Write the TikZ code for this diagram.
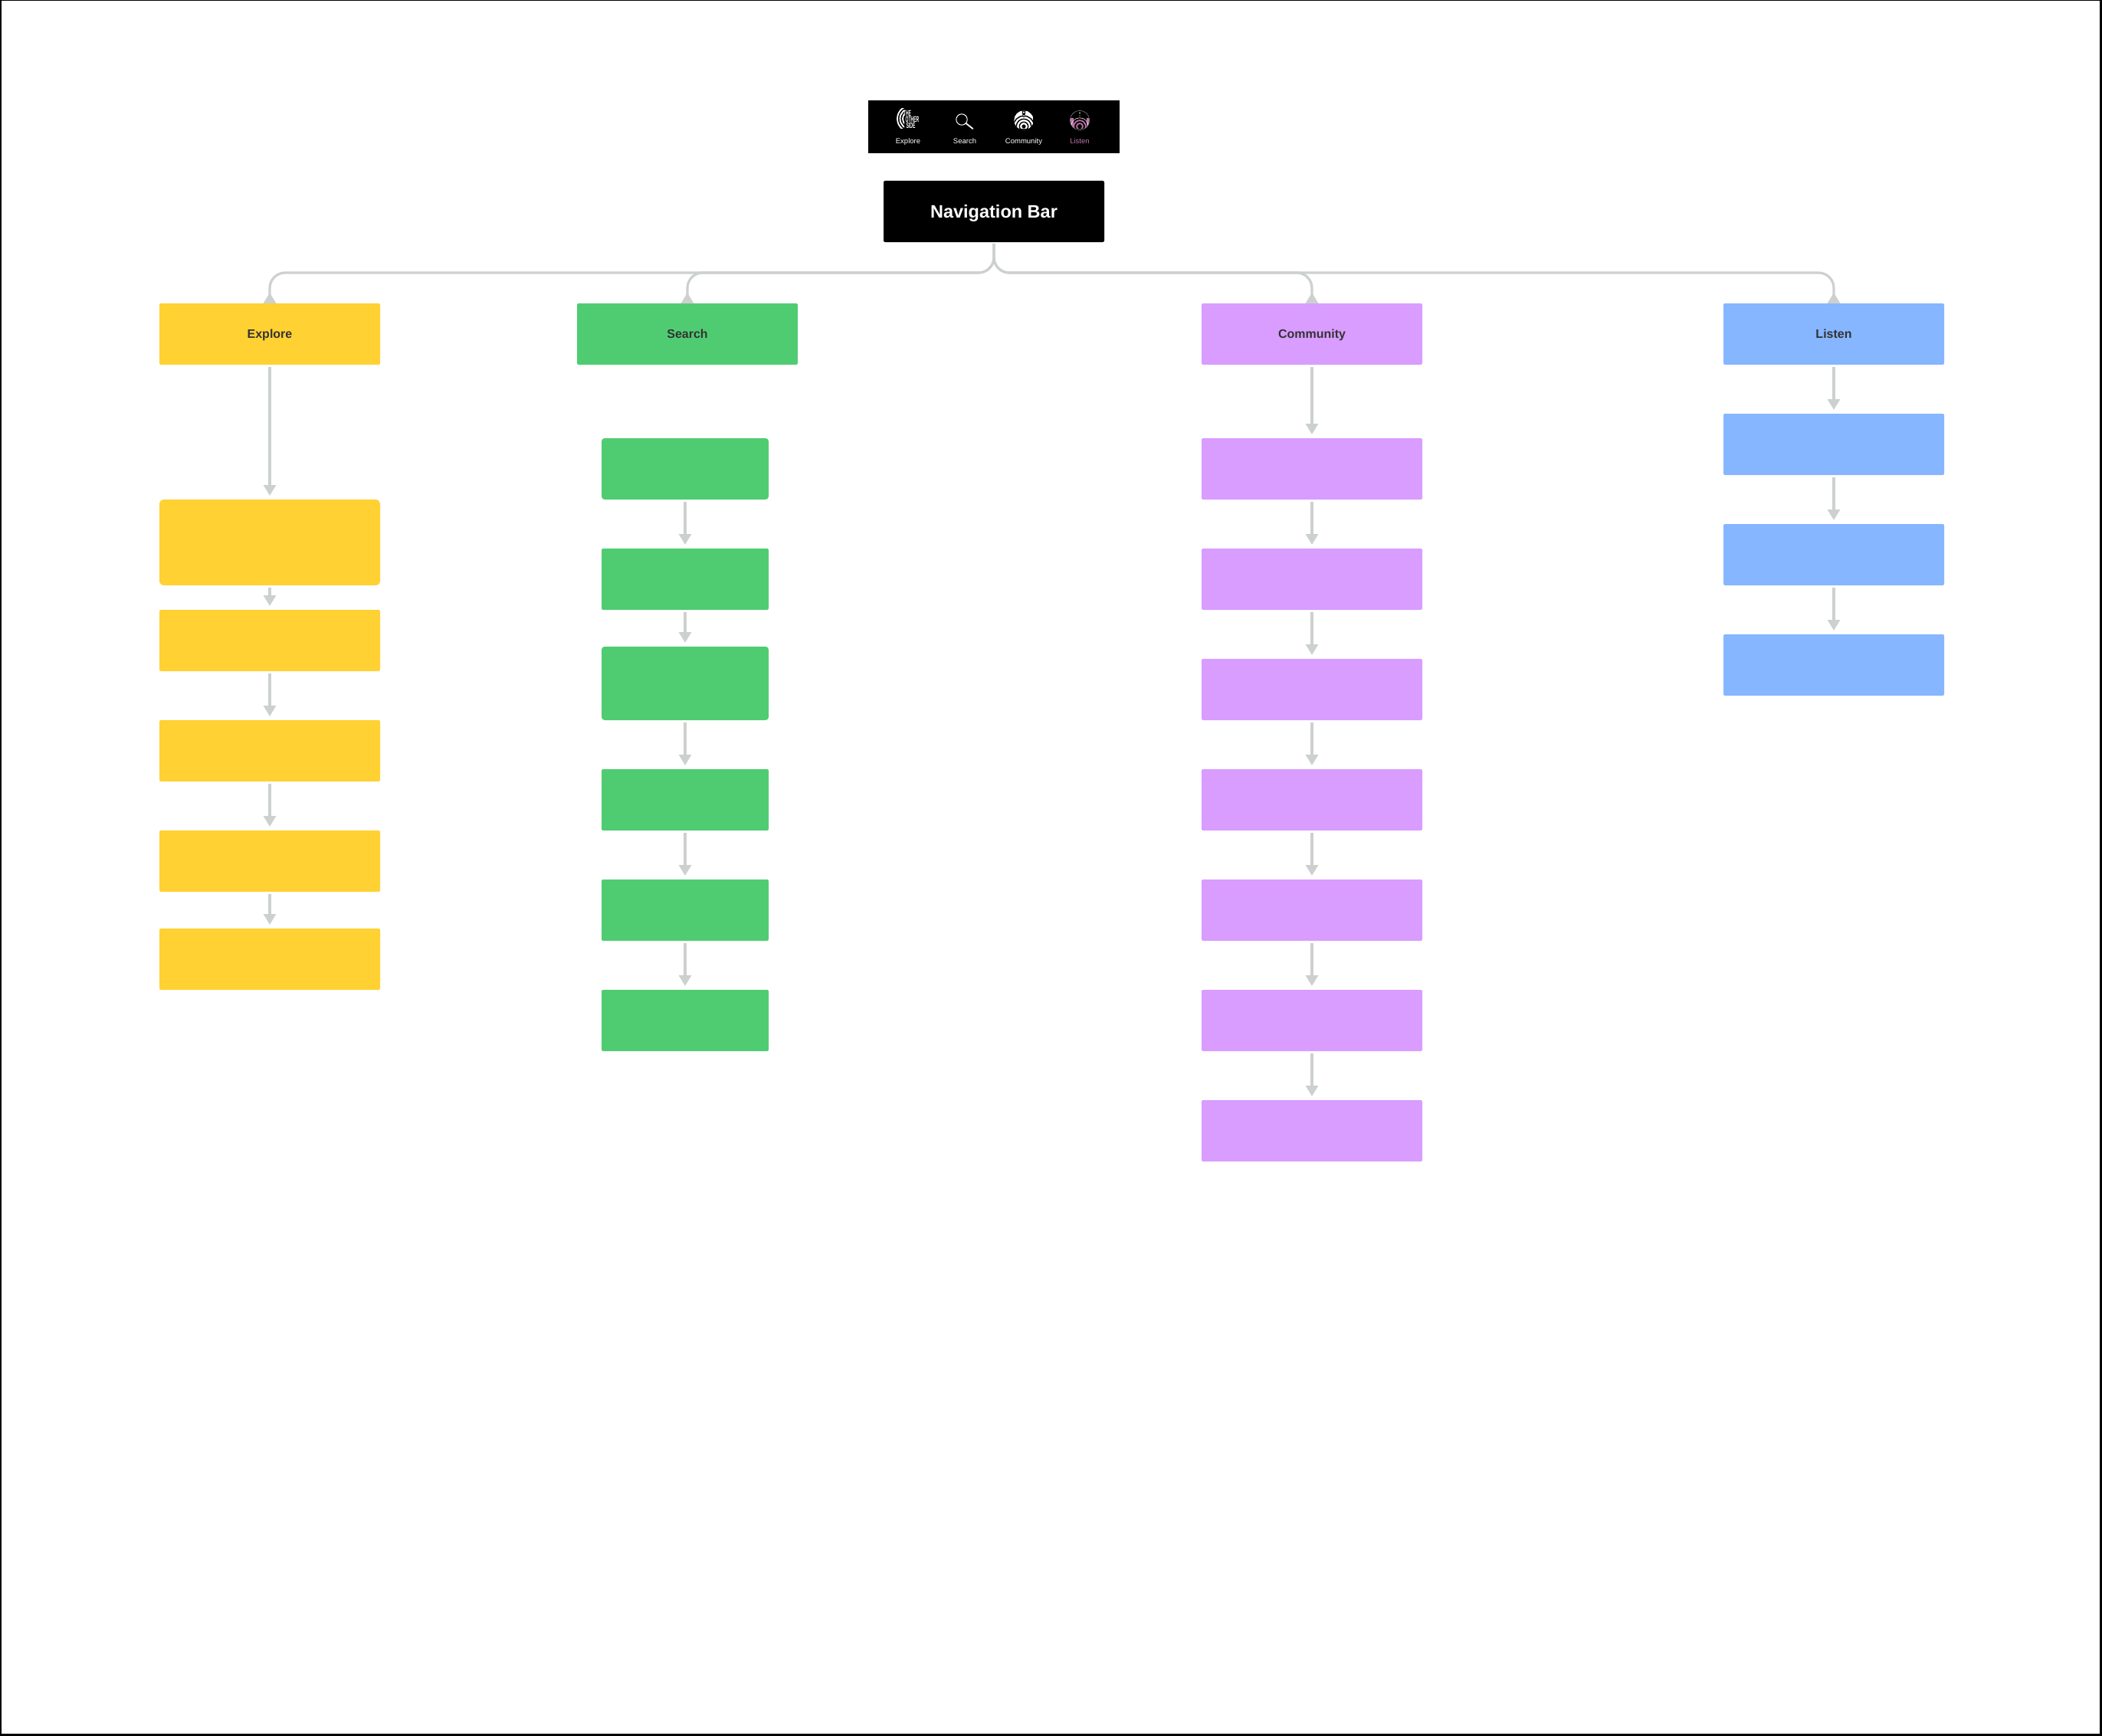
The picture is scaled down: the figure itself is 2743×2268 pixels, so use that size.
\documentclass[tikz,border=0pt]{standalone}
\usepackage{fontspec}
\setmainfont{Liberation Sans}
\usepackage{xcolor}
\usetikzlibrary{arrows.meta,positioning}
\definecolor{navyellow}{HTML}{FFD133}
\definecolor{navgreen}{HTML}{4FCC72}
\definecolor{navviolet}{HTML}{D99CFF}
\definecolor{navblue}{HTML}{85B6FF}
\definecolor{linkgray}{HTML}{CDD1CE}
\definecolor{labelgray}{HTML}{333333}
\definecolor{listenpink}{HTML}{BC74A8}
\tikzset{
 pics/arches/.style={code={
  \begin{scope}
  \clip (0,0) circle (12.7);
  \fill[white] (0,0) circle (12.7);
  \foreach \r in {5.7,9.7,13.7} \draw[black,line width=1.4pt] (0,8) circle (\r);
  \fill[black] (0,8) circle (2.6);
  \fill[black] (-13,11.5) rectangle (13,13);
  \fill[black] (-2.4,-13)--(2.4,-13)--(1.2,-4)--(-1.2,-4)--cycle;
  \fill[white] (0,-10.4) circle (1.2);
  \fill[white] (0,-6) circle (1);
  \end{scope}}},
 pics/listenarches/.style={code={
  \begin{scope}
  \clip (0,0) circle (12.7);
  \fill[black] (0,0) circle (12.7);
  \fill[listenpink] (-13,-3) rectangle (-8.5,9);
  \fill[listenpink] (8.5,-3) rectangle (13,9);
  \foreach \r in {4,7.8} \draw[listenpink,line width=1.7pt] (0,8) circle (\r);
  \draw[white!75!listenpink,line width=0.6pt] (0,8) circle (11.2);
  \fill[black] (-13,11.5) rectangle (13,13);
  \fill[white] (0,-9.5) circle (0.8);
  \fill[white] (0,-6) circle (0.7);
  \end{scope}
  \draw[white!55!black,line width=0.5pt] (0,0) circle (12.7);}}
}
\begin{document}
\begin{tikzpicture}[x=1pt,y=-1pt,
 font=\fontsize{16}{18}\selectfont,
 card/.style={rounded corners=2pt,inner sep=0pt,outer sep=0pt,minimum width=288pt,minimum height=80pt,align=center},
 head/.style={card,text=labelgray,text height=11.4pt,text depth=0pt,font=\bfseries\fontsize{16}{18}\selectfont},
 navitem/.style={inner sep=0pt,text=white,text height=7pt,text depth=0pt,font=\fontsize{9.5}{10}\selectfont},
 logotext/.style={inner sep=0pt,text=white,font=\bfseries\fontsize{10.5}{11}\selectfont,xscale=0.48},
 flow/.style={-{Triangle[width=16pt,length=14pt]},draw=linkgray,line width=3.2pt,shorten <=3pt,shorten >=5pt},
 branch/.style={-{Triangle[reversed,width=16pt,length=14pt]},draw=linkgray,line width=3.2pt,rounded corners=20pt,shorten <=2pt}]
\useasboundingbox (0,0) rectangle (2743,2266);
\draw[black,line width=3pt] (0.5,0) rectangle (2741.5,2264.5);
% navigation strip and its icons
\node[card,fill=black,text=white,text height=17pt,text depth=0pt,font=\bfseries\fontsize{23.5}{26}\selectfont] (navbar) at (1297,276) {Navigation Bar};
\node[fill=black,inner sep=0pt,outer sep=0pt,minimum width=328pt,minimum height=69pt,above=36pt of navbar] (navstrip) {};
\node[navitem] (navexplore) at (1185,184) {Explore};
\node[navitem] (navsearch) at (1259,184) {Search};
\node[navitem] (navcommunity) at (1336,184) {Community};
\node[navitem,text=listenpink] (navlisten) at (1409,184) {Listen};
\begin{scope}
\clip (1169,142) rectangle (1180,168);
\foreach \r in {3,6.5,10,13.5,17} \draw[white,line width=1.8pt] (1188,155) circle (\r);
\end{scope}
\node[logotext] (logothe) at (1184,147.5) {THE};
\node[logotext] (logoother) at (1190.5,156) {OTHER};
\node[logotext] (logoside) at (1188.5,163.5) {SIDE};
\draw[white,line width=1pt] (1255,156) circle (7.2);
\draw[white,line width=1.8pt,line cap=round] (1260.5,161)--(1269.5,168);
\pic at (1336,157) {arches};
\pic at (1409,157) {listenarches};
% top row
\node[head,fill=navyellow] (explore) at (352,436) {Explore};
\node[head,fill=navgreen] (search) at (897,436) {Search};
\node[head,fill=navviolet] (community) at (1712,436) {Community};
\node[head,fill=navblue] (listen) at (2393,436) {Listen};
\coordinate (rail) at (1297,356);
\draw[branch] (navbar.south)--(rail)--(explore.north |- rail)--(explore.north);
\draw[branch] (navbar.south)--(rail)--(search.north |- rail)--(search.north);
\draw[branch] (navbar.south)--(rail)--(community.north |- rail)--(community.north);
\draw[branch] (navbar.south)--(rail)--(listen.north |- rail)--(listen.north);
% explore column
\node[card,fill=navyellow,minimum height=112pt,rounded corners=6pt,below=176pt of explore] (e1) {};
\node[card,fill=navyellow,below=32pt of e1] (e2) {};
\node[card,fill=navyellow,below=64pt of e2] (e3) {};
\node[card,fill=navyellow,below=64pt of e3] (e4) {};
\node[card,fill=navyellow,below=48pt of e4] (e5) {};
\draw[flow] (explore)--(e1); \draw[flow] (e1)--(e2); \draw[flow] (e2)--(e3);
\draw[flow] (e3)--(e4); \draw[flow] (e4)--(e5);
% search column
\node[card,fill=navgreen,minimum width=218pt,rounded corners=4pt] (s1) at (894,612) {};
\node[card,fill=navgreen,minimum width=218pt,below=64pt of s1] (s2) {};
\node[card,fill=navgreen,minimum width=218pt,minimum height=96pt,rounded corners=4pt,below=48pt of s2] (s3) {};
\node[card,fill=navgreen,minimum width=218pt,below=64pt of s3] (s4) {};
\node[card,fill=navgreen,minimum width=218pt,below=64pt of s4] (s5) {};
\node[card,fill=navgreen,minimum width=218pt,below=64pt of s5] (s6) {};
\draw[flow] (s1)--(s2); \draw[flow] (s2)--(s3); \draw[flow] (s3)--(s4);
\draw[flow] (s4)--(s5); \draw[flow] (s5)--(s6);
% community column
\node[card,fill=navviolet,below=96pt of community] (c1) {};
\node[card,fill=navviolet,below=64pt of c1] (c2) {};
\node[card,fill=navviolet,below=64pt of c2] (c3) {};
\node[card,fill=navviolet,below=64pt of c3] (c4) {};
\node[card,fill=navviolet,below=64pt of c4] (c5) {};
\node[card,fill=navviolet,below=64pt of c5] (c6) {};
\node[card,fill=navviolet,below=64pt of c6] (c7) {};
\draw[flow] (community)--(c1); \draw[flow] (c1)--(c2); \draw[flow] (c2)--(c3);
\draw[flow] (c3)--(c4); \draw[flow] (c4)--(c5); \draw[flow] (c5)--(c6); \draw[flow] (c6)--(c7);
% listen column
\node[card,fill=navblue,below=64pt of listen] (l1) {};
\node[card,fill=navblue,below=64pt of l1] (l2) {};
\node[card,fill=navblue,below=64pt of l2] (l3) {};
\draw[flow] (listen)--(l1); \draw[flow] (l1)--(l2); \draw[flow] (l2)--(l3);
\end{tikzpicture}
\end{document}
